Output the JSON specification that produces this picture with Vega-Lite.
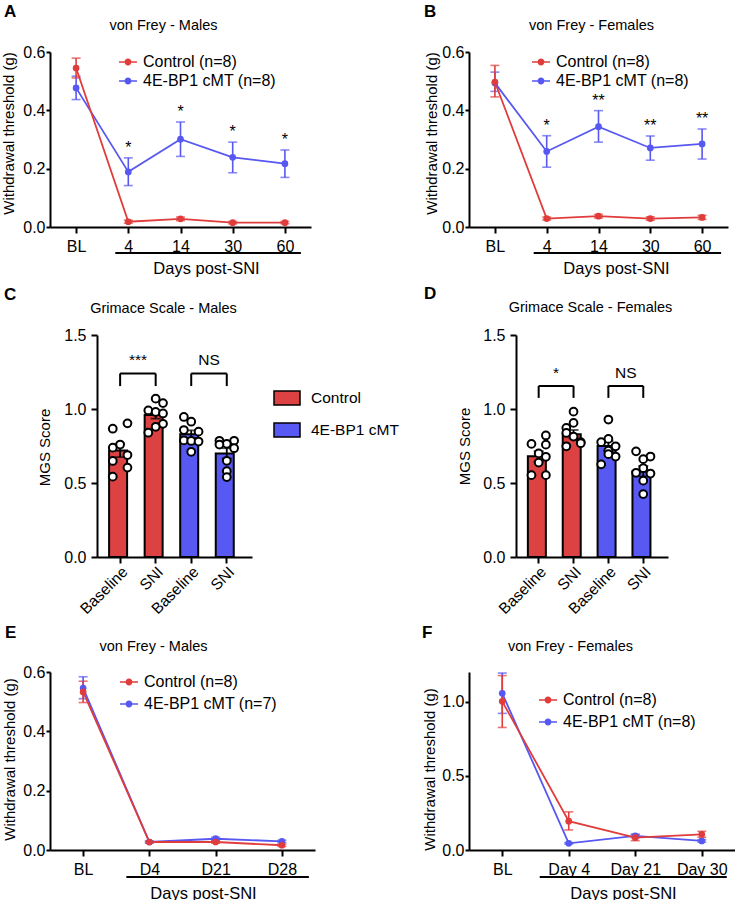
{
"$schema": "https://vega.github.io/schema/vega-lite/v6.json",
"background": "white",
"padding": {"left": 0, "top": 3, "right": 0, "bottom": 0},
"datasets": {
"vfA": [
{"day":"BL","grp":"4E-BP1 cMT (n=8)","mean":0.477,"lo":0.437,"hi":0.517},
{"day":"4","grp":"4E-BP1 cMT (n=8)","mean":0.189,"lo":0.142,"hi":0.237,"sig":"*"},
{"day":"14","grp":"4E-BP1 cMT (n=8)","mean":0.301,"lo":0.242,"hi":0.360,"sig":"*"},
{"day":"30","grp":"4E-BP1 cMT (n=8)","mean":0.239,"lo":0.186,"hi":0.291,"sig":"*"},
{"day":"60","grp":"4E-BP1 cMT (n=8)","mean":0.217,"lo":0.170,"hi":0.264,"sig":"*"},
{"day":"BL","grp":"Control (n=8)","mean":0.545,"lo":0.511,"hi":0.579},
{"day":"4","grp":"Control (n=8)","mean":0.018,"lo":0.013,"hi":0.023},
{"day":"14","grp":"Control (n=8)","mean":0.028,"lo":0.022,"hi":0.034},
{"day":"30","grp":"Control (n=8)","mean":0.015,"lo":0.011,"hi":0.019},
{"day":"60","grp":"Control (n=8)","mean":0.015,"lo":0.011,"hi":0.019}
],
"vfB": [
{"day":"BL","grp":"4E-BP1 cMT (n=8)","mean":0.494,"lo":0.465,"hi":0.531},
{"day":"4","grp":"4E-BP1 cMT (n=8)","mean":0.259,"lo":0.205,"hi":0.313,"sig":"*"},
{"day":"14","grp":"4E-BP1 cMT (n=8)","mean":0.344,"lo":0.291,"hi":0.399,"sig":"**"},
{"day":"30","grp":"4E-BP1 cMT (n=8)","mean":0.271,"lo":0.229,"hi":0.312,"sig":"**"},
{"day":"60","grp":"4E-BP1 cMT (n=8)","mean":0.285,"lo":0.233,"hi":0.336,"sig":"**"},
{"day":"BL","grp":"Control (n=8)","mean":0.497,"lo":0.446,"hi":0.554},
{"day":"4","grp":"Control (n=8)","mean":0.029,"lo":0.024,"hi":0.034},
{"day":"14","grp":"Control (n=8)","mean":0.037,"lo":0.031,"hi":0.043},
{"day":"30","grp":"Control (n=8)","mean":0.029,"lo":0.023,"hi":0.035},
{"day":"60","grp":"Control (n=8)","mean":0.033,"lo":0.026,"hi":0.040}
],
"vfE": [
{"day":"BL","grp":"4E-BP1 cMT (n=7)","mean":0.546,"lo":0.510,"hi":0.584},
{"day":"D4","grp":"4E-BP1 cMT (n=7)","mean":0.027,"lo":0.024,"hi":0.030},
{"day":"D21","grp":"4E-BP1 cMT (n=7)","mean":0.038,"lo":0.033,"hi":0.043},
{"day":"D28","grp":"4E-BP1 cMT (n=7)","mean":0.029,"lo":0.025,"hi":0.033},
{"day":"BL","grp":"Control (n=8)","mean":0.533,"lo":0.497,"hi":0.569},
{"day":"D4","grp":"Control (n=8)","mean":0.027,"lo":0.024,"hi":0.030},
{"day":"D21","grp":"Control (n=8)","mean":0.027,"lo":0.023,"hi":0.031},
{"day":"D28","grp":"Control (n=8)","mean":0.016,"lo":0.012,"hi":0.020}
],
"vfF": [
{"day":"BL","grp":"4E-BP1 cMT (n=8)","mean":1.056,"lo":0.921,"hi":1.193},
{"day":"Day 4","grp":"4E-BP1 cMT (n=8)","mean":0.045,"lo":0.040,"hi":0.050},
{"day":"Day 21","grp":"4E-BP1 cMT (n=8)","mean":0.095,"lo":0.083,"hi":0.107},
{"day":"Day 30","grp":"4E-BP1 cMT (n=8)","mean":0.061,"lo":0.053,"hi":0.069},
{"day":"BL","grp":"Control (n=8)","mean":1.002,"lo":0.826,"hi":1.176},
{"day":"Day 4","grp":"Control (n=8)","mean":0.194,"lo":0.135,"hi":0.257},
{"day":"Day 21","grp":"Control (n=8)","mean":0.083,"lo":0.063,"hi":0.103},
{"day":"Day 30","grp":"Control (n=8)","mean":0.106,"lo":0.086,"hi":0.126}
],
"barsC": [
{"key":"C-Baseline","grp":"Control","mean":0.72,"sem":0.045},
{"key":"C-SNI","grp":"Control","mean":0.96,"sem":0.025},
{"key":"M-Baseline","grp":"4E-BP1 cMT","mean":0.83,"sem":0.026},
{"key":"M-SNI","grp":"4E-BP1 cMT","mean":0.70,"sem":0.035}
],
"barsD": [
{"key":"C-Baseline","grp":"Control","mean":0.68,"sem":0.035},
{"key":"C-SNI","grp":"Control","mean":0.83,"sem":0.028},
{"key":"M-Baseline","grp":"4E-BP1 cMT","mean":0.75,"sem":0.033},
{"key":"M-SNI","grp":"4E-BP1 cMT","mean":0.58,"sem":0.035}
],
"dotsC": [
{"key":"C-Baseline","col":"L","v":0.867},{"key":"C-Baseline","col":"R","v":0.903},{"key":"C-Baseline","col":"L","v":0.739},{"key":"C-Baseline","col":"M","v":0.76},
{"key":"C-Baseline","col":"L","v":0.649},{"key":"C-Baseline","col":"R","v":0.689},{"key":"C-Baseline","col":"R","v":0.604},{"key":"C-Baseline","col":"L","v":0.543},
{"key":"C-SNI","col":"M","v":1.07},{"key":"C-SNI","col":"R","v":1.04},{"key":"C-SNI","col":"L","v":0.99},{"key":"C-SNI","col":"M","v":0.98},
{"key":"C-SNI","col":"R","v":0.97},{"key":"C-SNI","col":"R","v":0.90},{"key":"C-SNI","col":"L","v":0.84},{"key":"C-SNI","col":"M","v":0.88},
{"key":"M-Baseline","col":"L","v":0.946},{"key":"M-Baseline","col":"M","v":0.914},{"key":"M-Baseline","col":"L","v":0.858},{"key":"M-Baseline","col":"R","v":0.847},
{"key":"M-Baseline","col":"L","v":0.788},{"key":"M-Baseline","col":"M","v":0.784},{"key":"M-Baseline","col":"R","v":0.78},{"key":"M-Baseline","col":"M","v":0.711},
{"key":"M-SNI","col":"L","v":0.785},{"key":"M-SNI","col":"R","v":0.785},{"key":"M-SNI","col":"M","v":0.765},{"key":"M-SNI","col":"L","v":0.76},
{"key":"M-SNI","col":"R","v":0.735},{"key":"M-SNI","col":"M","v":0.65},{"key":"M-SNI","col":"M","v":0.58},{"key":"M-SNI","col":"M","v":0.54}
],
"dotsD": [
{"key":"C-Baseline","col":"L","v":0.764},{"key":"C-Baseline","col":"R","v":0.821},{"key":"C-Baseline","col":"R","v":0.759},{"key":"C-Baseline","col":"M","v":0.70},
{"key":"C-Baseline","col":"R","v":0.677},{"key":"C-Baseline","col":"M","v":0.638},{"key":"C-Baseline","col":"L","v":0.553},{"key":"C-Baseline","col":"R","v":0.553},
{"key":"C-SNI","col":"M","v":0.982},{"key":"C-SNI","col":"M","v":0.906},{"key":"C-SNI","col":"L","v":0.872},{"key":"C-SNI","col":"L","v":0.838},
{"key":"C-SNI","col":"M","v":0.814},{"key":"C-SNI","col":"R","v":0.776},{"key":"C-SNI","col":"L","v":0.748},{"key":"C-SNI","col":"R","v":0.769},
{"key":"M-Baseline","col":"M","v":0.929},{"key":"M-Baseline","col":"M","v":0.798},{"key":"M-Baseline","col":"L","v":0.776},{"key":"M-Baseline","col":"R","v":0.748},
{"key":"M-Baseline","col":"M","v":0.718},{"key":"M-Baseline","col":"R","v":0.679},{"key":"M-Baseline","col":"M","v":0.695},{"key":"M-Baseline","col":"L","v":0.626},
{"key":"M-SNI","col":"L","v":0.714},{"key":"M-SNI","col":"R","v":0.679},{"key":"M-SNI","col":"M","v":0.661},{"key":"M-SNI","col":"L","v":0.569},
{"key":"M-SNI","col":"R","v":0.564},{"key":"M-SNI","col":"M","v":0.516},{"key":"M-SNI","col":"M","v":0.425},{"key":"M-SNI","col":"M","v":0.60}
],
"brC": [
{"x1":"C-Baseline","x2":"C-SNI","top":1.24,"bot":1.155,"label":"***"},
{"x1":"M-Baseline","x2":"M-SNI","top":1.24,"bot":1.155,"label":"NS"}
],
"brD": [
{"x1":"C-Baseline","x2":"C-SNI","top":1.156,"bot":1.075,"label":"*"},
{"x1":"M-Baseline","x2":"M-SNI","top":1.156,"bot":1.075,"label":"NS"}
]
},
"columns": 2,
"spacing": {"row": 0, "column": 154},
"bounds": "flush",
"align": "each",
"resolve": {"scale": {"color": "independent", "x": "independent", "y": "independent", "xOffset": "independent"}, "legend": {"color": "independent"}},
"concat": [
{"width": 261, "height": 175, "title": {"text": "A", "dx": -46},
 "data": {"name": "vfA"},
 "resolve": {"axis": {"x": "independent"}},
 "layer": [
  {"mark": {"type": "errorbar", "ticks": true, "size": 9, "thickness": 1.6},
   "encoding": {"x": {"field": "day", "type": "ordinal", "scale": {"type": "point", "padding": 0.5, "domain": ["BL","4","14","30","60"]}, "axis": null},
    "y": {"field": "lo", "type": "quantitative", "scale": {"domain": [0, 0.6]}, "axis": {"title": "Withdrawal threshold (g)", "values": [0,0.2,0.4,0.6], "format": ".1f", "tickSize": 4, "labelPadding": 1, "titleX": -42, "titleY": 81, "titleAngle": -90, "titleAlign": "center", "titleBaseline": "middle"}},
    "y2": {"field": "hi"},
    "color": {"field": "grp", "type": "nominal", "scale": {"domain": ["Control (n=8)","4E-BP1 cMT (n=8)"], "range": ["#e03c3c","#5757f2"]}}}},
  {"mark": {"type": "line", "strokeWidth": 1.8},
   "encoding": {"x": {"field": "day", "type": "ordinal", "axis": {"orient": "bottom", "title": "Days post-SNI", "titleX": 156, "titleY": 41, "titleAlign": "center", "titleBaseline": "middle", "titleFontSize": 16.5, "labelAngle": 0, "tickSize": 6, "labelPadding": 5}},
    "y": {"field": "mean", "type": "quantitative"},
    "color": {"field": "grp", "type": "nominal", "legend": {"orient": "none", "legendX": 69, "legendY": 1, "title": null, "symbolType": "M-1,-0.09H1V0.09H-1ZM0.38,0A0.38,0.38 0 1,1 -0.38,0A0.38,0.38 0 1,1 0.38,0Z", "symbolSize": 324, "symbolStrokeWidth": 0, "symbolOpacity": 1, "labelFontSize": 16, "labelOffset": 6, "rowPadding": 2, "padding": 0,
      "encode": {"symbols": {"update": {"fill": {"signal": "indexof(datum.value, 'Control') === 0 ? '#e03c3c' : '#5757f2'"}, "fillOpacity": {"value": 1}, "opacity": {"value": 1}}}}}}}},
  {"mark": {"type": "point", "filled": true, "size": 45, "opacity": 1},
   "encoding": {"x": {"field": "day", "type": "ordinal", "axis": {"orient": "top", "title": "von Frey - Males", "titleX": 113, "titleY": -27, "titleAlign": "center", "titleBaseline": "middle", "titleFontSize": 14.5, "labels": false, "ticks": false, "domain": false}},
    "y": {"field": "mean", "type": "quantitative"},
    "color": {"field": "grp", "type": "nominal"}}},
  {"transform": [{"filter": "datum.sig"}],
   "mark": {"type": "text", "fontSize": 16, "dy": -10, "baseline": "middle", "color": "black"},
   "encoding": {"x": {"field": "day", "type": "ordinal", "axis": null}, "y": {"field": "hi", "type": "quantitative"}, "text": {"field": "sig"}}},
  {"data": {"values": [{"from": "4", "to": "60"}]},
   "mark": {"type": "rule", "xOffset": -13, "x2Offset": 16, "yOffset": 26, "strokeWidth": 2, "color": "black"},
   "encoding": {"x": {"field": "from", "type": "ordinal", "axis": null}, "x2": {"field": "to"}, "y": {"datum": 0, "type": "quantitative"}}}
 ]},
{"width": 259, "height": 175, "title": {"text": "B", "dx": -45},
 "data": {"name": "vfB"},
 "resolve": {"axis": {"x": "independent"}},
 "layer": [
  {"mark": {"type": "errorbar", "ticks": true, "size": 9, "thickness": 1.6},
   "encoding": {"x": {"field": "day", "type": "ordinal", "scale": {"type": "point", "padding": 0.5, "domain": ["BL","4","14","30","60"]}, "axis": null},
    "y": {"field": "lo", "type": "quantitative", "scale": {"domain": [0, 0.6]}, "axis": {"title": "Withdrawal threshold (g)", "values": [0,0.2,0.4,0.6], "format": ".1f", "tickSize": 4, "labelPadding": 1, "titleX": -38, "titleY": 81, "titleAngle": -90, "titleAlign": "center", "titleBaseline": "middle"}},
    "y2": {"field": "hi"},
    "color": {"field": "grp", "type": "nominal", "scale": {"domain": ["Control (n=8)","4E-BP1 cMT (n=8)"], "range": ["#e03c3c","#5757f2"]}}}},
  {"mark": {"type": "line", "strokeWidth": 1.8},
   "encoding": {"x": {"field": "day", "type": "ordinal", "axis": {"orient": "bottom", "title": "Days post-SNI", "titleX": 147, "titleY": 41, "titleAlign": "center", "titleBaseline": "middle", "titleFontSize": 16.5, "labelAngle": 0, "tickSize": 6, "labelPadding": 5}},
    "y": {"field": "mean", "type": "quantitative"},
    "color": {"field": "grp", "type": "nominal", "legend": {"orient": "none", "legendX": 63, "legendY": 1, "title": null, "symbolType": "M-1,-0.09H1V0.09H-1ZM0.38,0A0.38,0.38 0 1,1 -0.38,0A0.38,0.38 0 1,1 0.38,0Z", "symbolSize": 324, "symbolStrokeWidth": 0, "symbolOpacity": 1, "labelFontSize": 16, "labelOffset": 6, "rowPadding": 2, "padding": 0,
      "encode": {"symbols": {"update": {"fill": {"signal": "indexof(datum.value, 'Control') === 0 ? '#e03c3c' : '#5757f2'"}, "fillOpacity": {"value": 1}, "opacity": {"value": 1}}}}}}}},
  {"mark": {"type": "point", "filled": true, "size": 45, "opacity": 1},
   "encoding": {"x": {"field": "day", "type": "ordinal", "axis": {"orient": "top", "title": "von Frey - Females", "titleX": 122, "titleY": -27, "titleAlign": "center", "titleBaseline": "middle", "titleFontSize": 14.5, "labels": false, "ticks": false, "domain": false}},
    "y": {"field": "mean", "type": "quantitative"},
    "color": {"field": "grp", "type": "nominal"}}},
  {"transform": [{"filter": "datum.sig"}],
   "mark": {"type": "text", "fontSize": 16, "dy": -10, "baseline": "middle", "color": "black"},
   "encoding": {"x": {"field": "day", "type": "ordinal", "axis": null}, "y": {"field": "hi", "type": "quantitative"}, "text": {"field": "sig"}}},
  {"data": {"values": [{"from": "4", "to": "60"}]},
   "mark": {"type": "rule", "xOffset": -13, "x2Offset": 19, "yOffset": 26, "strokeWidth": 2, "color": "black"},
   "encoding": {"x": {"field": "from", "type": "ordinal", "axis": null}, "x2": {"field": "to"}, "y": {"datum": 0, "type": "quantitative"}}}
 ]},

{"width": 1, "height": 108, "data": {"values": []}, "mark": "point"},
{"width": 1, "height": 1, "data": {"values": []}, "mark": "point"},

{"width": 202, "height": 222, "title": {"text": "C", "dx": -46},
 "resolve": {"axis": {"x": "independent"}},
 "layer": [
  {"data": {"name": "barsC"},
   "mark": {"type": "bar", "stroke": "black", "strokeWidth": 2},
   "encoding": {"x": {"field": "key", "type": "nominal", "scale": {"domain": ["C-Baseline","C-SNI","M-Baseline","M-SNI"], "range": [47, 202], "paddingInner": 0.38, "paddingOuter": 0.37, "align": 0.46}, "axis": {"title": null, "labelExpr": "slice(datum.label, 2)", "labelAngle": -45, "labelFontSize": 15.5, "tickSize": 6, "labelPadding": 1}},
    "y": {"field": "mean", "type": "quantitative", "scale": {"domain": [0, 1.5], "nice": false}, "axis": {"title": "MGS Score", "offset": -47, "values": [0,0.5,1,1.5], "format": ".1f", "tickSize": 6, "labelPadding": 5, "titleX": -53, "titleY": 112, "titleAngle": -90, "titleAlign": "center", "titleBaseline": "middle"}},
    "color": {"field": "grp", "type": "nominal", "scale": {"domain": ["Control","4E-BP1 cMT"], "range": ["#dc4242","#5858f2"]}, "legend": {"orient": "none", "legendX": 223, "legendY": 49, "title": null, "symbolType": "M-1,-0.54H1V0.54H-1Z", "symbolSize": 676, "symbolStrokeColor": "black", "symbolStrokeWidth": 1.5, "symbolOpacity": 1, "labelFontSize": 15.5, "labelOffset": 10, "rowPadding": 7, "padding": 0}}}},
  {"data": {"name": "barsC"},
   "mark": {"type": "errorbar", "ticks": true, "size": 10, "thickness": 1.8, "color": "black"},
   "encoding": {"x": {"field": "key", "type": "nominal", "axis": null}, "y": {"field": "mean", "type": "quantitative", "axis": {"title": "MGS Score", "offset": -47, "values": [0,0.5,1,1.5], "format": ".1f", "tickSize": 6, "labelPadding": 5, "titleX": -53, "titleY": 112, "titleAngle": -90, "titleAlign": "center", "titleBaseline": "middle"}}, "yError": {"field": "sem"}}},
  {"data": {"name": "dotsC"},
   "mark": {"type": "point", "filled": true, "fill": "white", "stroke": "black", "strokeWidth": 2, "size": 60, "opacity": 1},
   "encoding": {"x": {"field": "key", "type": "nominal", "axis": {"orient": "top", "title": "Grimace Scale - Males", "titleX": 113, "titleY": -27, "titleAlign": "center", "titleBaseline": "middle", "titleFontSize": 14.5, "labels": false, "ticks": false, "domain": false}},
    "xOffset": {"field": "col", "type": "nominal", "scale": {"domain": ["L","M","R"]}},
    "y": {"field": "v", "type": "quantitative", "axis": {"title": "MGS Score", "offset": -47, "values": [0,0.5,1,1.5], "format": ".1f", "tickSize": 6, "labelPadding": 5, "titleX": -53, "titleY": 112, "titleAngle": -90, "titleAlign": "center", "titleBaseline": "middle"}}}},
  {"data": {"name": "brC"}, "mark": {"type": "rule", "strokeWidth": 2, "color": "black"},
   "encoding": {"x": {"field": "x1", "type": "nominal", "axis": null}, "x2": {"field": "x2"}, "y": {"field": "top", "type": "quantitative", "axis": {"title": "MGS Score", "offset": -47, "values": [0,0.5,1,1.5], "format": ".1f", "tickSize": 6, "labelPadding": 5, "titleX": -53, "titleY": 112, "titleAngle": -90, "titleAlign": "center", "titleBaseline": "middle"}}}},
  {"data": {"name": "brC"}, "mark": {"type": "rule", "strokeWidth": 2, "color": "black"},
   "encoding": {"x": {"field": "x1", "type": "nominal", "axis": null}, "y": {"field": "bot", "type": "quantitative", "axis": {"title": "MGS Score", "offset": -47, "values": [0,0.5,1,1.5], "format": ".1f", "tickSize": 6, "labelPadding": 5, "titleX": -53, "titleY": 112, "titleAngle": -90, "titleAlign": "center", "titleBaseline": "middle"}}, "y2": {"field": "top"}}},
  {"data": {"name": "brC"}, "mark": {"type": "rule", "strokeWidth": 2, "color": "black"},
   "encoding": {"x": {"field": "x2", "type": "nominal", "axis": null}, "y": {"field": "bot", "type": "quantitative", "axis": {"title": "MGS Score", "offset": -47, "values": [0,0.5,1,1.5], "format": ".1f", "tickSize": 6, "labelPadding": 5, "titleX": -53, "titleY": 112, "titleAngle": -90, "titleAlign": "center", "titleBaseline": "middle"}}, "y2": {"field": "top"}}},
  {"data": {"name": "brC"}, "mark": {"type": "text", "fontSize": 15.5, "dx": 17.8, "dy": -13, "baseline": "middle", "color": "black"},
   "encoding": {"x": {"field": "x1", "type": "nominal", "axis": null}, "y": {"field": "top", "type": "quantitative", "axis": {"title": "MGS Score", "offset": -47, "values": [0,0.5,1,1.5], "format": ".1f", "tickSize": 6, "labelPadding": 5, "titleX": -53, "titleY": 112, "titleAngle": -90, "titleAlign": "center", "titleBaseline": "middle"}}, "text": {"field": "label"}}}
 ]},
{"width": 199, "height": 222, "title": {"text": "D", "dx": -45},
 "resolve": {"axis": {"x": "independent"}},
 "layer": [
  {"data": {"name": "barsD"},
   "mark": {"type": "bar", "stroke": "black", "strokeWidth": 2},
   "encoding": {"x": {"field": "key", "type": "nominal", "scale": {"domain": ["C-Baseline","C-SNI","M-Baseline","M-SNI"], "range": [47, 199], "paddingInner": 0.38, "paddingOuter": 0.37, "align": 0.46}, "axis": {"title": null, "labelExpr": "slice(datum.label, 2)", "labelAngle": -45, "labelFontSize": 15.5, "tickSize": 6, "labelPadding": 1}},
    "y": {"field": "mean", "type": "quantitative", "scale": {"domain": [0, 1.5], "nice": false}, "axis": {"title": "MGS Score", "offset": -47, "values": [0,0.5,1,1.5], "format": ".1f", "tickSize": 6, "labelPadding": 5, "titleX": -52, "titleY": 111, "titleAngle": -90, "titleAlign": "center", "titleBaseline": "middle"}},
    "color": {"field": "grp", "type": "nominal", "scale": {"domain": ["Control","4E-BP1 cMT"], "range": ["#dc4242","#5858f2"]}, "legend": null}}},
  {"data": {"name": "barsD"},
   "mark": {"type": "errorbar", "ticks": true, "size": 10, "thickness": 1.8, "color": "black"},
   "encoding": {"x": {"field": "key", "type": "nominal", "axis": null}, "y": {"field": "mean", "type": "quantitative", "axis": {"title": "MGS Score", "offset": -47, "values": [0,0.5,1,1.5], "format": ".1f", "tickSize": 6, "labelPadding": 5, "titleX": -52, "titleY": 111, "titleAngle": -90, "titleAlign": "center", "titleBaseline": "middle"}}, "yError": {"field": "sem"}}},
  {"data": {"name": "dotsD"},
   "mark": {"type": "point", "filled": true, "fill": "white", "stroke": "black", "strokeWidth": 2, "size": 60, "opacity": 1},
   "encoding": {"x": {"field": "key", "type": "nominal", "axis": {"orient": "top", "title": "Grimace Scale - Females", "titleX": 121, "titleY": -28, "titleAlign": "center", "titleBaseline": "middle", "titleFontSize": 14.5, "labels": false, "ticks": false, "domain": false}},
    "xOffset": {"field": "col", "type": "nominal", "scale": {"domain": ["L","M","R"]}},
    "y": {"field": "v", "type": "quantitative", "axis": {"title": "MGS Score", "offset": -47, "values": [0,0.5,1,1.5], "format": ".1f", "tickSize": 6, "labelPadding": 5, "titleX": -52, "titleY": 111, "titleAngle": -90, "titleAlign": "center", "titleBaseline": "middle"}}}},
  {"data": {"name": "brD"}, "mark": {"type": "rule", "strokeWidth": 2, "color": "black"},
   "encoding": {"x": {"field": "x1", "type": "nominal", "axis": null}, "x2": {"field": "x2"}, "y": {"field": "top", "type": "quantitative", "axis": {"title": "MGS Score", "offset": -47, "values": [0,0.5,1,1.5], "format": ".1f", "tickSize": 6, "labelPadding": 5, "titleX": -52, "titleY": 111, "titleAngle": -90, "titleAlign": "center", "titleBaseline": "middle"}}}},
  {"data": {"name": "brD"}, "mark": {"type": "rule", "strokeWidth": 2, "color": "black"},
   "encoding": {"x": {"field": "x1", "type": "nominal", "axis": null}, "y": {"field": "bot", "type": "quantitative", "axis": {"title": "MGS Score", "offset": -47, "values": [0,0.5,1,1.5], "format": ".1f", "tickSize": 6, "labelPadding": 5, "titleX": -52, "titleY": 111, "titleAngle": -90, "titleAlign": "center", "titleBaseline": "middle"}}, "y2": {"field": "top"}}},
  {"data": {"name": "brD"}, "mark": {"type": "rule", "strokeWidth": 2, "color": "black"},
   "encoding": {"x": {"field": "x2", "type": "nominal", "axis": null}, "y": {"field": "bot", "type": "quantitative", "axis": {"title": "MGS Score", "offset": -47, "values": [0,0.5,1,1.5], "format": ".1f", "tickSize": 6, "labelPadding": 5, "titleX": -52, "titleY": 111, "titleAngle": -90, "titleAlign": "center", "titleBaseline": "middle"}}, "y2": {"field": "top"}}},
  {"data": {"name": "brD"}, "mark": {"type": "text", "fontSize": 15.5, "dx": 17.4, "dy": -13, "baseline": "middle", "color": "black"},
   "encoding": {"x": {"field": "x1", "type": "nominal", "axis": null}, "y": {"field": "top", "type": "quantitative", "axis": {"title": "MGS Score", "offset": -47, "values": [0,0.5,1,1.5], "format": ".1f", "tickSize": 6, "labelPadding": 5, "titleX": -52, "titleY": 111, "titleAngle": -90, "titleAlign": "center", "titleBaseline": "middle"}}, "text": {"field": "label"}}}
 ]},

{"width": 1, "height": 115, "data": {"values": []}, "mark": "point"},
{"width": 1, "height": 1, "data": {"values": []}, "mark": "point"},

{"width": 265, "height": 178, "title": {"text": "E", "dx": -45},
 "data": {"name": "vfE"},
 "resolve": {"axis": {"x": "independent"}},
 "layer": [
  {"mark": {"type": "errorbar", "ticks": true, "size": 9, "thickness": 1.6},
   "encoding": {"x": {"field": "day", "type": "ordinal", "scale": {"type": "point", "padding": 0.5, "domain": ["BL","D4","D21","D28"]}, "axis": null},
    "y": {"field": "lo", "type": "quantitative", "scale": {"domain": [0, 0.6]}, "axis": {"title": "Withdrawal threshold (g)", "values": [0,0.2,0.4,0.6], "format": ".1f", "tickSize": 4, "labelPadding": 1, "titleX": -41, "titleY": 87, "titleAngle": -90, "titleAlign": "center", "titleBaseline": "middle"}},
    "y2": {"field": "hi"},
    "color": {"field": "grp", "type": "nominal", "scale": {"domain": ["Control (n=8)","4E-BP1 cMT (n=7)"], "range": ["#e03c3c","#5757f2"]}}}},
  {"mark": {"type": "line", "strokeWidth": 1.8},
   "encoding": {"x": {"field": "day", "type": "ordinal", "axis": {"orient": "bottom", "title": "Days post-SNI", "titleX": 153, "titleY": 43, "titleAlign": "center", "titleBaseline": "middle", "titleFontSize": 16.5, "labelAngle": 0, "tickSize": 6, "labelPadding": 5}},
    "y": {"field": "mean", "type": "quantitative"},
    "color": {"field": "grp", "type": "nominal", "legend": {"orient": "none", "legendX": 70, "legendY": 1, "title": null, "symbolType": "M-1,-0.09H1V0.09H-1ZM0.38,0A0.38,0.38 0 1,1 -0.38,0A0.38,0.38 0 1,1 0.38,0Z", "symbolSize": 324, "symbolStrokeWidth": 0, "symbolOpacity": 1, "labelFontSize": 16, "labelOffset": 6, "rowPadding": 5, "padding": 0,
      "encode": {"symbols": {"update": {"fill": {"signal": "indexof(datum.value, 'Control') === 0 ? '#e03c3c' : '#5757f2'"}, "fillOpacity": {"value": 1}, "opacity": {"value": 1}}}}}}}},
  {"mark": {"type": "point", "filled": true, "size": 45, "opacity": 1},
   "encoding": {"x": {"field": "day", "type": "ordinal", "axis": {"orient": "top", "title": "von Frey - Males", "titleX": 103, "titleY": -26, "titleAlign": "center", "titleBaseline": "middle", "titleFontSize": 14.5, "labels": false, "ticks": false, "domain": false}},
    "y": {"field": "mean", "type": "quantitative"},
    "color": {"field": "grp", "type": "nominal"}}},
  {"data": {"values": [{"from": "D4", "to": "D28"}]},
   "mark": {"type": "rule", "xOffset": -23, "x2Offset": 27, "yOffset": 27, "strokeWidth": 2, "color": "black"},
   "encoding": {"x": {"field": "from", "type": "ordinal", "axis": null}, "x2": {"field": "to"}, "y": {"datum": 0, "type": "quantitative"}}}
 ]},
{"width": 266, "height": 178, "title": {"text": "F", "dx": -47},
 "data": {"name": "vfF"},
 "resolve": {"axis": {"x": "independent"}},
 "layer": [
  {"mark": {"type": "errorbar", "ticks": true, "size": 9, "thickness": 1.6},
   "encoding": {"x": {"field": "day", "type": "ordinal", "scale": {"type": "point", "padding": 0.5, "domain": ["BL","Day 4","Day 21","Day 30"]}, "axis": null},
    "y": {"field": "lo", "type": "quantitative", "scale": {"domain": [0, 1.2]}, "axis": {"title": "Withdrawal threshold (g)", "values": [0,0.5,1], "format": ".1f", "tickSize": 4, "labelPadding": 1, "titleX": -40, "titleY": 97, "titleAngle": -90, "titleAlign": "center", "titleBaseline": "middle"}},
    "y2": {"field": "hi"},
    "color": {"field": "grp", "type": "nominal", "scale": {"domain": ["Control (n=8)","4E-BP1 cMT (n=8)"], "range": ["#e03c3c","#5757f2"]}}}},
  {"mark": {"type": "line", "strokeWidth": 1.8},
   "encoding": {"x": {"field": "day", "type": "ordinal", "axis": {"orient": "bottom", "title": "Days post-SNI", "titleX": 154, "titleY": 43, "titleAlign": "center", "titleBaseline": "middle", "titleFontSize": 16.5, "labelAngle": 0, "tickSize": 6, "labelPadding": 5}},
    "y": {"field": "mean", "type": "quantitative"},
    "color": {"field": "grp", "type": "nominal", "legend": {"orient": "none", "legendX": 70, "legendY": 19, "title": null, "symbolType": "M-1,-0.09H1V0.09H-1ZM0.38,0A0.38,0.38 0 1,1 -0.38,0A0.38,0.38 0 1,1 0.38,0Z", "symbolSize": 324, "symbolStrokeWidth": 0, "symbolOpacity": 1, "labelFontSize": 16, "labelOffset": 6, "rowPadding": 5, "padding": 0,
      "encode": {"symbols": {"update": {"fill": {"signal": "indexof(datum.value, 'Control') === 0 ? '#e03c3c' : '#5757f2'"}, "fillOpacity": {"value": 1}, "opacity": {"value": 1}}}}}}}},
  {"mark": {"type": "point", "filled": true, "size": 45, "opacity": 1},
   "encoding": {"x": {"field": "day", "type": "ordinal", "axis": {"orient": "top", "title": "von Frey - Females", "titleX": 101, "titleY": -26, "titleAlign": "center", "titleBaseline": "middle", "titleFontSize": 14.5, "labels": false, "ticks": false, "domain": false}},
    "y": {"field": "mean", "type": "quantitative"},
    "color": {"field": "grp", "type": "nominal"}}},
  {"data": {"values": [{"from": "Day 4", "to": "Day 30"}]},
   "mark": {"type": "rule", "xOffset": -29, "x2Offset": 25, "yOffset": 27, "strokeWidth": 2, "color": "black"},
   "encoding": {"x": {"field": "from", "type": "ordinal", "axis": null}, "x2": {"field": "to"}, "y": {"datum": 0, "type": "quantitative"}}}
 ]}
],
"config": {
 "font": "Liberation Sans",
 "view": {"stroke": null},
 "axis": {"domainColor": "black", "domainWidth": 2, "tickColor": "black", "tickWidth": 2, "labelColor": "black", "titleColor": "black", "labelFontSize": 16, "titleFontSize": 15, "titleFontWeight": "normal", "grid": false},
 "legend": {"labelColor": "black", "labelFontSize": 16},
 "title": {"color": "black", "fontSize": 17, "fontWeight": "bold", "anchor": "start", "frame": "group", "offset": -4}
}
}
